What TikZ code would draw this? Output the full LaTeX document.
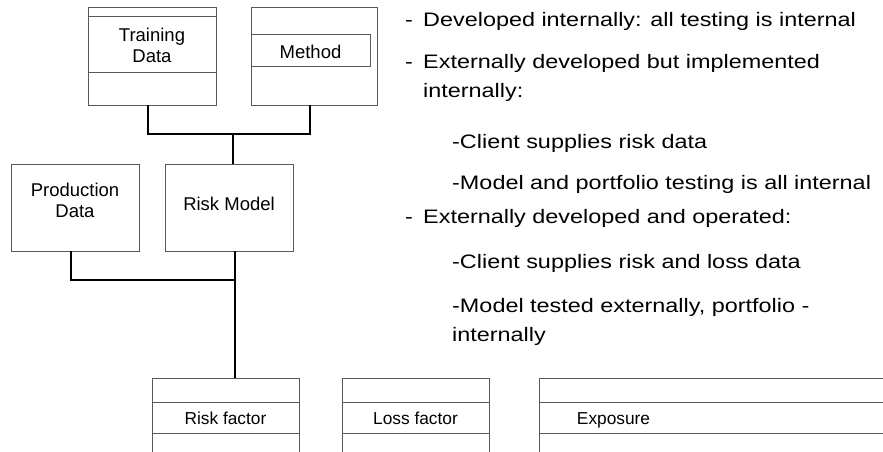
\documentclass[tikz,border=0pt]{standalone}
\usepackage{fontspec}
\setmainfont{Liberation Sans}
\newfontfamily\notefont[FakeStretch=1.2]{Liberation Sans}
\begin{document}
\begin{tikzpicture}[x=1pt,y=-1pt,
  box/.style={draw=black!65, line width=1pt, inner sep=0pt, outer sep=0pt, anchor=north west},
  openbox/.style={inner sep=0pt, outer sep=0pt, anchor=north west},
  boxline/.style={draw=black!65, line width=1pt},
  conn/.style={draw=black, line width=2pt},
  lbl/.style={inner sep=0pt, anchor=base, font=\fontsize{18.5}{21.5}\selectfont},
  slbl/.style={inner sep=0pt, anchor=base, font=\fontsize{17.3}{20}\selectfont},
  note/.style={inner sep=0pt, anchor=base west, font=\notefont\fontsize{19.5}{29}\selectfont}
]
\useasboundingbox (0,0) rectangle (883,452);

% upper row: training data and method
\node[box, minimum width=128pt, minimum height=97pt] (td) at (88,8) {};
\draw[boxline] (88,17) -- (216,17);
\draw[boxline] (88,72) -- (216,72);
\node[lbl] (tdl1) at (152,41.7) {Training};
\node[lbl] (tdl2) at (152,63) {Data};

\node[box, minimum width=126pt, minimum height=97pt] (me) at (251,8) {};
\node[box, minimum width=119pt, minimum height=32pt] (mei) at (251,35) {};
\node[lbl] (mel) at (310.5,58.3) {Method};

% middle row: production data and risk model
\node[box, minimum width=128pt, minimum height=87pt] (pd) at (11,164) {};
\node[lbl] (pdl1) at (75,196) {Production};
\node[lbl] (pdl2) at (75,217.7) {Data};

\node[box, minimum width=128pt, minimum height=87pt] (rm) at (165,164) {};
\node[lbl] (rml) at (229,210.7) {Risk Model};

% lower row: open-bottomed tables
\node[openbox, minimum width=147pt, minimum height=80pt] (rf) at (152,378) {};
\node[openbox, minimum width=147pt, minimum height=80pt] (lf) at (342,378) {};
\node[openbox, minimum width=360pt, minimum height=80pt] (ex) at (539,378) {};
\foreach \b in {rf,lf} {
  \draw[boxline] (\b.south west) -- (\b.north west) -- (\b.north east) -- (\b.south east);
  \draw[boxline] (\b.west |- 0,402) -- (\b.east |- 0,402);
  \draw[boxline] (\b.west |- 0,433) -- (\b.east |- 0,433);
}
\draw[boxline] (ex.south west) -- (ex.north west) -- (ex.north east);
\draw[boxline] (ex.west |- 0,402) -- (ex.east |- 0,402);
\draw[boxline] (ex.west |- 0,433) -- (ex.east |- 0,433);
\node[slbl] (rfl) at (225.5,424) {Risk factor};
\node[slbl] (lfl) at (415.5,424) {Loss factor};
\node[slbl] (exl) at (613.5,424) {Exposure};

% connectors
\coordinate (j1) at (233,134);
\coordinate (j2) at (235,280);
\draw[conn] ([xshift=-4pt]td.south) |- (j1) -| ([xshift=-4pt]me.south);
\draw[conn] (j1) -- (j1 |- rm.north);
\draw[conn] ([xshift=-4pt]pd.south) |- (j2);
\draw[conn] (j2 |- rm.south) -- (j2 |- rf.north);

% notes
\node[note] (d1) at (405,27) {-};
\node[note] (n1) at (423,27) {Developed internally: all testing is internal};
\node[note] (d2) at (405,68) {-};
\node[note] (n2) at (423,68) {Externally developed but implemented};
\node[note] (n2b) at (423,97) {internally:};
\node[note] (n3) at (452,148) {-Client supplies risk data};
\node[note] (n4) at (452,189) {-Model and portfolio testing is all internal};
\node[note] (d3) at (405,223) {-};
\node[note] (n5) at (423,223) {Externally developed and operated:};
\node[note] (n6) at (452,268) {-Client supplies risk and loss data};
\node[note] (n7) at (452,312) {-Model tested externally, portfolio -};
\node[note] (n7b) at (452,341) {internally};
\end{tikzpicture}
\end{document}
